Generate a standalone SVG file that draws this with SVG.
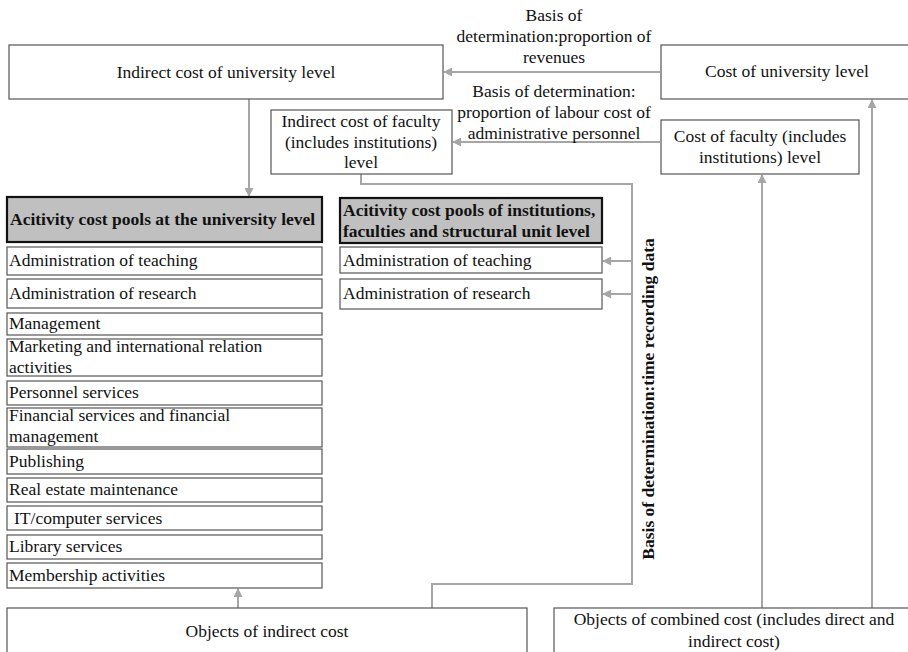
<svg xmlns="http://www.w3.org/2000/svg" width="908" height="652" viewBox="0 0 908 652">
<defs>
<style>
.box{fill:#fff;stroke:#555;stroke-width:1.2}
.hdr{fill:#c0c0c0;stroke:#111;stroke-width:2.2}
.t{font-family:'Liberation Serif','Times New Roman',serif;font-size:17.5px;fill:#111}
.c{text-anchor:middle}
.b{font-weight:bold}
.ln{fill:none;stroke:#a6a6a6;stroke-width:2}
</style>
<marker id="ah" viewBox="0 0 10 10" refX="9" refY="5" markerWidth="10" markerHeight="9" orient="auto" markerUnits="userSpaceOnUse">
<path d="M0,0 L10,5 L0,10 z" fill="#a6a6a6"/>
</marker>
</defs>
<rect width="908" height="652" fill="#fff"/>
<g id="connectors">
<line class="ln" x1="660" y1="72" x2="444" y2="72" marker-end="url(#ah)"/>
<line class="ln" x1="660" y1="142" x2="453" y2="142" marker-end="url(#ah)"/>
<line class="ln" x1="249" y1="99" x2="249" y2="196" marker-end="url(#ah)"/>
<line class="ln" x1="238" y1="608" x2="238" y2="589" marker-end="url(#ah)"/>
<polyline class="ln" points="432,608 432,584 632,584 632,184 361,184 361,174"/>
<line class="ln" x1="632" y1="261" x2="603" y2="261" marker-end="url(#ah)"/>
<line class="ln" x1="632" y1="294" x2="603" y2="294" marker-end="url(#ah)"/>
<line class="ln" x1="762" y1="608" x2="762" y2="175" marker-end="url(#ah)"/>
<line class="ln" x1="872" y1="608" x2="872" y2="100" marker-end="url(#ah)"/>
<text class="t c" x="554" y="21">Basis of</text>
<text class="t c" x="554" y="42">determination:proportion of</text>
<text class="t c" x="554" y="63">revenues</text>
<text class="t c" x="554" y="97">Basis of determination:</text>
<text class="t c" x="554" y="118">proportion of labour cost of</text>
<text class="t c" x="554" y="139">administrative personnel</text>
<text class="t c b" transform="translate(654,399) rotate(-90)" x="0" y="0">Basis of determination:time recording data</text>
</g>
<g id="indirect-univ"><rect class="box" x="9" y="45" width="434" height="54"/><text class="t c" x="226" y="78">Indirect cost of university level</text></g>
<g id="cost-univ"><rect class="box" x="661" y="45" width="252" height="54"/><text class="t c" x="787" y="77">Cost of university level</text></g>
<g id="indirect-faculty"><rect class="box" x="271" y="110" width="181" height="64"/><text class="t c" x="361" y="127">Indirect cost of faculty</text><text class="t c" x="361" y="148">(includes institutions)</text><text class="t c" x="361" y="168">level</text></g>
<g id="cost-faculty"><rect class="box" x="661" y="120" width="198" height="54"/><text class="t c" x="760" y="142">Cost of faculty (includes</text><text class="t c" x="760" y="163">institutions) level</text></g>
<g id="univ-pools">
<rect class="hdr" x="7" y="197" width="315" height="45"/><text class="t b" x="10" y="225">Acitivity cost pools at the university level</text>
<rect class="box" x="7" y="247" width="315" height="28"/><text class="t" x="9" y="266">Administration of teaching</text>
<rect class="box" x="7" y="279" width="315" height="29"/><text class="t" x="9" y="299">Administration of research</text>
<rect class="box" x="7" y="313" width="315" height="22"/><text class="t" x="9" y="329">Management</text>
<rect class="box" x="7" y="339" width="315" height="37"/><text class="t" x="9" y="352">Marketing and international relation</text><text class="t" x="9" y="373">activities</text>
<rect class="box" x="7" y="381" width="315" height="24"/><text class="t" x="9" y="398">Personnel services</text>
<rect class="box" x="7" y="408" width="315" height="39"/><text class="t" x="9" y="421">Financial services and financial</text><text class="t" x="9" y="442">management</text>
<rect class="box" x="7" y="449" width="315" height="25"/><text class="t" x="9" y="467">Publishing</text>
<rect class="box" x="7" y="478" width="315" height="24"/><text class="t" x="9" y="495">Real estate maintenance</text>
<rect class="box" x="7" y="506" width="315" height="24"/><text class="t" x="14" y="524">IT/computer services</text>
<rect class="box" x="7" y="535" width="315" height="24"/><text class="t" x="9" y="552">Library services</text>
<rect class="box" x="7" y="563" width="315" height="25"/><text class="t" x="9" y="581">Membership activities</text>
</g>
<g id="inst-pools">
<rect class="hdr" x="340" y="198" width="262" height="45"/><text class="t b" x="343" y="216">Acitivity cost pools of institutions,</text><text class="t b" x="343" y="237">faculties and structural unit level</text>
<rect class="box" x="340" y="247" width="262" height="26"/><text class="t" x="343" y="266">Administration of teaching</text>
<rect class="box" x="340" y="279" width="262" height="30"/><text class="t" x="343" y="299">Administration of research</text>
</g>
<g id="objects-indirect"><rect class="box" x="7" y="608" width="520" height="60"/><text class="t c" x="267" y="637">Objects of indirect cost</text></g>
<g id="objects-combined"><rect class="box" x="554" y="608" width="360" height="60"/><text class="t c" x="734" y="625">Objects of combined cost (includes direct and</text><text class="t c" x="734" y="647">indirect cost)</text></g>
</svg>
